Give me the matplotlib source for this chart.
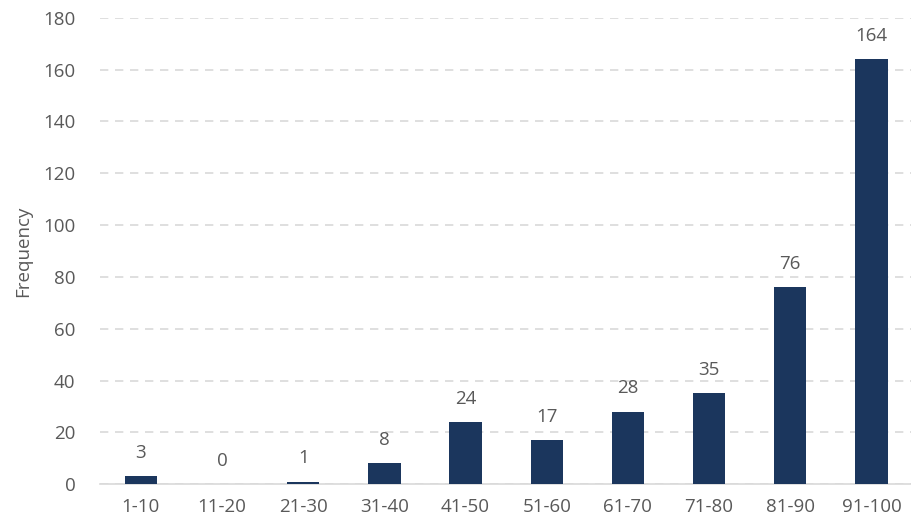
import matplotlib

matplotlib.use("Agg")
import matplotlib.pyplot as plt

categories = ["1-10", "11-20", "21-30", "31-40", "41-50", "51-60", "61-70", "71-80", "81-90", "91-100"]
frequency = [3, 0, 1, 8, 24, 17, 28, 35, 76, 164]
y_ticks = [0, 20, 40, 60, 80, 100, 120, 140, 160, 180]

BAR = "#1B365D"
TEXT = "#595959"

plt.rcParams["font.family"] = ["Open Sans", "DejaVu Sans"]

fig = plt.figure(figsize=(9.12, 5.24), dpi=100)
ax = fig.add_axes([0.11, 0.076, 0.89, 0.89])

x = range(len(categories))
ax.bar(x, frequency, width=0.4, color=BAR, zorder=3)
for i, v in enumerate(frequency):
    ax.text(i, v + 5.5, str(v), ha="center", va="bottom", fontsize=13.5, color=TEXT)

ax.set_xlim(-0.5, len(categories) - 0.5)
ax.set_ylim(0, 180)
ax.set_yticks(y_ticks)
ax.set_xticks(list(x))
ax.set_xticklabels(categories)
ax.tick_params(axis="both", length=0, labelsize=13.5, labelcolor=TEXT)
ax.tick_params(axis="y", pad=18)
ax.tick_params(axis="x", pad=10)
ax.set_ylabel("Frequency", fontsize=13.5, color=TEXT, labelpad=8)

ax.yaxis.grid(True, color="#D9D9D9", linestyle=(0, (5, 4)), linewidth=1.2, zorder=0)
for side in ("top", "right", "left"):
    ax.spines[side].set_visible(False)
ax.spines["bottom"].set_color("#D9D9D9")
ax.spines["bottom"].set_linewidth(1.2)

fig.savefig("out.png", dpi=100)
